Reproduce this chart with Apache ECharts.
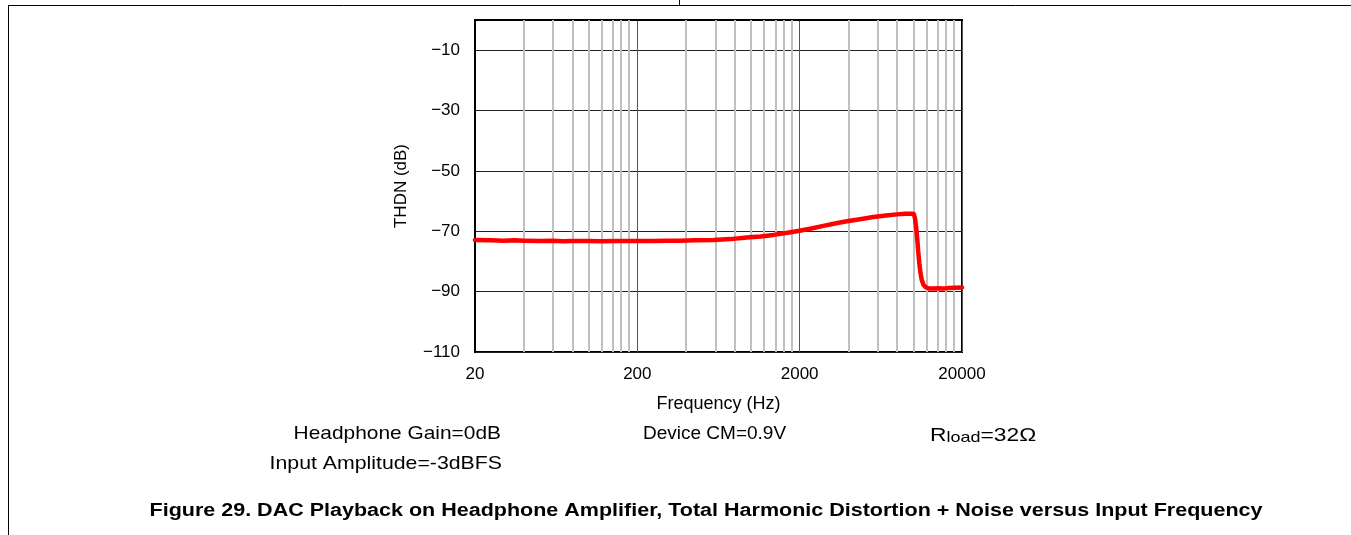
<!DOCTYPE html>
<html>
<head>
<meta charset="utf-8">
<script src="https://cdn.jsdelivr.net/npm/echarts@6/dist/echarts.min.js"></script>
<style>
html,body{margin:0;padding:0;background:#fff;}
#chart{width:1351px;height:535px;}
</style>
</head>
<body>
<div id="chart"></div>
<script>
// Frequency (Hz)
const freqHz = [20, 25, 30, 35, 40, 50, 60, 70, 80, 100, 120, 150, 200, 250, 300, 366, 450, 588, 750, 944, 1150, 1377, 1650, 2000, 2400, 2798, 3300, 3900, 4700, 5688, 6800, 7925, 9000, 9800, 10100, 10268, 10450, 10612, 10760, 10916, 11100, 11294, 11600, 12000, 12600, 13320, 14300, 15350, 15700, 16500, 18000, 20000];
// THD+N (dB)
const thdnDb = [-72.9, -73.0, -73.1, -73.0, -73.1, -73.2, -73.1, -73.3, -73.2, -73.2, -73.3, -73.2, -73.2, -73.2, -73.1, -73.1, -73.0, -72.9, -72.6, -72.1, -71.7, -71.2, -70.6, -69.8, -69.0, -68.2, -67.4, -66.7, -66.0, -65.3, -64.8, -64.4, -64.2, -64.2, -64.3, -65.7, -69.0, -72.9, -77.0, -80.6, -83.8, -86.1, -87.8, -88.6, -89.0, -89.0, -88.9, -89.0, -88.7, -88.8, -88.7, -88.6];
const xTickLabels = ['20', '200', '2000', '20000'];
const yTickLabels = ['\u2212110', '\u221290', '\u221270', '\u221250', '\u221230', '\u221210'];
const minorFreqs = [40, 60, 80, 100, 120, 140, 160, 180, 400, 600, 800, 1000, 1200, 1400, 1600, 1800, 4000, 6000, 8000, 10000, 12000, 14000, 16000, 18000];

const F0 = 20;
const toU = f => Math.log10(f / F0);
const seriesData = freqHz.map((f, i) => [toU(f), thdnDb[i]]);

const chart = echarts.init(document.getElementById('chart'), null, {renderer: 'canvas'});
const FONT = '"Liberation Sans", Arial, Helvetica, sans-serif';

chart.setOption({
  animation: false,
  backgroundColor: '#fff',
  grid: {left: 475, top: 20, width: 487, height: 332, show: true, borderColor: '#000', borderWidth: 2, backgroundColor: 'transparent'},
  xAxis: {
    type: 'value', min: 0, max: 3, interval: 1,
    name: 'Frequency (Hz)', nameLocation: 'middle', nameGap: 43,
    nameTextStyle: {fontFamily: FONT, fontSize: 18, color: '#000'},
    axisLine: {show: true, lineStyle: {color: '#000', width: 2}},
    axisTick: {show: false},
    axisLabel: {margin: 14, fontFamily: FONT, fontSize: 17, color: '#000',
      formatter: v => xTickLabels[Math.round(v)] || ''},
    splitLine: {show: true, lineStyle: {color: '#555', width: 1}}
  },
  yAxis: {
    type: 'value', min: -110, max: 0, interval: 20,
    name: 'THDN (dB)', nameLocation: 'middle', nameGap: 65, nameRotate: 90,
    nameTextStyle: {fontFamily: FONT, fontSize: 17, color: '#000'},
    axisLine: {show: true, lineStyle: {color: '#000', width: 2}},
    axisTick: {show: false},
    axisLabel: {margin: 15, fontFamily: FONT, fontSize: 17, color: '#000',
      formatter: v => {const i = Math.round((v + 110) / 20); return (Math.abs(v + 110 - i * 20) < 1e-6 && yTickLabels[i]) ? yTickLabels[i] : '';}},
    splitLine: {show: true, lineStyle: {color: '#222', width: 1}}
  },
  series: [
    {
      type: 'line', data: [], z: 1, silent: true,
      markLine: {
        silent: true, symbol: 'none', animation: false,
        label: {show: false},
        lineStyle: {color: '#c0c0c0', width: 2, type: 'solid'},
        data: minorFreqs.map(f => ({xAxis: toU(f)}))
      }
    },
    {
      type: 'line', data: seriesData, z: 5, showSymbol: false, symbol: 'none',
      lineStyle: {color: '#ff0000', width: 4.5, join: 'round', cap: 'round'},
      smooth: false
    }
  ],
  graphic: [
    {type: 'line', shape: {x1: 8, y1: 5.5, x2: 1351, y2: 5.5}, style: {stroke: '#000', lineWidth: 1}},
    {type: 'line', shape: {x1: 679.5, y1: 0, x2: 679.5, y2: 5.5}, style: {stroke: '#000', lineWidth: 1}},
    {type: 'line', shape: {x1: 8.5, y1: 5, x2: 8.5, y2: 535}, style: {stroke: '#000', lineWidth: 1}},
    {type: 'text', x: 501, y: 434, scaleX: 1.1, style: {text: 'Headphone Gain=0dB', font: '19px ' + FONT, fill: '#000', align: 'right', verticalAlign: 'middle'}},
    {type: 'text', x: 502, y: 464, scaleX: 1.12, style: {text: 'Input Amplitude=-3dBFS', font: '19px ' + FONT, fill: '#000', align: 'right', verticalAlign: 'middle'}},
    {type: 'text', x: 643, y: 434, style: {text: 'Device CM=0.9V', font: '19px ' + FONT, fill: '#000', align: 'left', verticalAlign: 'middle'}},
    {type: 'text', x: 930, y: 434, scaleX: 1.2, style: {
      text: '{r|R}{s|load}{r|=32\u03a9}', align: 'left', verticalAlign: 'middle',
      rich: {r: {fontFamily: FONT, fontSize: 19, fill: '#000', color: '#000', verticalAlign: 'bottom', lineHeight: 22}, s: {fontFamily: FONT, fontSize: 15, color: '#000', fill: '#000', verticalAlign: 'bottom', lineHeight: 8}}
    }},
    {type: 'text', x: 706, y: 511, scaleX: 1.195, style: {text: 'Figure 29. DAC Playback on Headphone Amplifier, Total Harmonic Distortion + Noise versus Input Frequency', font: 'bold 18px ' + FONT, fill: '#000', align: 'center', verticalAlign: 'middle'}}
  ]
});
</script>
</body>
</html>
